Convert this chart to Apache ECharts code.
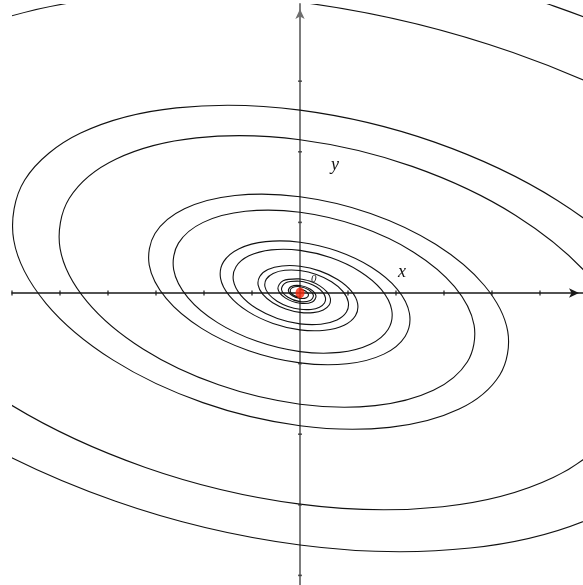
<!DOCTYPE html>
<html>
<head>
<meta charset="utf-8">
<script src="https://cdn.jsdelivr.net/npm/echarts@6/dist/echarts.min.js"></script>
<style>
  html, body { margin: 0; padding: 0; background: #fff; }
  #chart { width: 583px; height: 585px; }
</style>
</head>
<body>
<div id="chart"></div>
<script>
// two trajectories of the phase portrait, [x, y] in axis units
const spiralA = [
  [15.60, -1.96], [13.845, 0.381], [10.180, 2.487], [5.293, 4.063], [0, 4.917], [-4.886, 4.978], [-8.672, 4.299], [-10.887, 3.037],
  [-11.320, 1.423], [-10.049, -0.277], [-7.388, -1.805], [-3.842, -2.949], [0, -3.569], [3.546, -3.613], [6.295, -3.120], [7.902, -2.204],
  [8.217, -1.033], [7.293, 0.201], [5.363, 1.310], [2.788, 2.140],
  [0, 2.590], [-2.574, 2.622], [-4.569, 2.265], [-5.735, 1.600], [-5.964, 0.750], [-5.293, -0.146], [-3.892, -0.951], [-2.024, -1.553],
  [0, -1.880], [1.868, -1.903], [3.316, -1.644], [4.162, -1.161], [4.328, -0.544], [3.842, 0.106], [2.825, 0.690], [1.469, 1.127],
  [0, 1.364], [-1.356, 1.381], [-2.407, 1.193], [-3.021, 0.843], [-3.141, 0.395], [-2.788, -0.077], [-2.050, -0.501], [-1.066, -0.818],
  [0, -0.990], [0.984, -1.003], [1.747, -0.866], [2.193, -0.612], [2.280, -0.287], [2.024, 0.056], [1.488, 0.364], [0.774, 0.594],
  [0, 0.719], [-0.714, 0.728], [-1.268, 0.628], [-1.591, 0.444], [-1.655, 0.208], [-1.469, -0.040], [-1.080, -0.264], [-0.562, -0.431],
  [0, -0.522], [0.518, -0.528], [0.920, -0.456], [1.155, -0.322], [1.201, -0.151], [1.066, 0.029], [0.784, 0.191], [0.408, 0.313],
  [0, 0.379], [-0.376, 0.383], [-0.668, 0.331], [-0.838, 0.234], [-0.872, 0.110], [-0.774, -0.021], [-0.569, -0.139], [-0.296, -0.227],
  [0, -0.275], [0.273, -0.278], [0.485, -0.240], [0.608, -0.170], [0.633, -0.080], [0.562, 0.015], [0.413, 0.101], [0.215, 0.165],
  [0, 0.199], [-0.352, 0.174], [-0.459, 0.058], [-0.300, -0.073], [0, -0.145], [0.255, -0.127], [0.333, -0.042], [0.217, 0.053],
  [0, 0.105], [-0.185, 0.092], [-0.242, 0.030], [-0.158, -0.039], [0, -0.076], [0.135, -0.067], [0.176, -0.022], [0.115, 0.028], [0, 0.055]
];
const spiralB = [
  [13.07, -1.64], [11.602, 0.319], [8.531, 2.084], [4.436, 3.405], [0, 4.120], [-4.094, 4.172], [-7.267, 3.603], [-9.123, 2.545],
  [-9.486, 1.192], [-8.421, -0.232], [-6.191, -1.513], [-3.220, -2.471], [0, -2.991], [2.972, -3.028], [5.275, -2.615], [6.622, -1.847],
  [6.886, -0.866], [6.112, 0.168], [4.494, 1.098], [2.336, 1.793],
  [0, 2.170], [-2.157, 2.197], [-3.829, 1.898], [-4.806, 1.341], [-4.998, 0.629], [-4.436, -0.122], [-3.262, -0.797], [-1.696, -1.301],
  [0, -1.575], [1.565, -1.595], [2.779, -1.378], [3.488, -0.973], [3.627, -0.456], [3.220, 0.089], [2.367, 0.578], [1.231, 0.944],
  [0, 1.143], [-1.136, 1.157], [-2.017, 1.000], [-2.532, 0.706], [-2.632, 0.331], [-2.336, -0.065], [-1.718, -0.420], [-0.893, -0.685],
  [0, -0.830], [0.825, -0.841], [1.464, -0.726], [1.838, -0.513], [1.911, -0.241], [1.696, 0.047], [1.247, 0.305], [0.649, 0.498],
  [0, 0.603], [-0.598, 0.610], [-1.063, 0.526], [-1.333, 0.372], [-1.387, 0.174], [-1.231, -0.034], [-0.905, -0.221], [-0.471, -0.361],
  [0, -0.437], [0.434, -0.442], [0.771, -0.382], [0.968, -0.270], [1.006, -0.127], [0.893, 0.024], [0.657, 0.160], [0.342, 0.262],
  [0, 0.318], [-0.315, 0.321], [-0.560, 0.277], [-0.702, 0.196], [-0.731, 0.092], [-0.649, -0.018], [-0.477, -0.116], [-0.248, -0.190],
  [0, -0.230], [0.229, -0.233], [0.406, -0.201], [0.510, -0.142], [0.530, -0.067], [0.471, 0.013], [0.346, 0.085], [0.180, 0.138],
  [0, 0.167], [-0.295, 0.146], [-0.385, 0.049], [-0.251, -0.061], [0, -0.122], [0.214, -0.106], [0.279, -0.035], [0.182, 0.044],
  [0, 0.088], [-0.155, 0.077], [-0.203, 0.025], [-0.132, -0.033], [0, -0.064]
];
const xTicks = [-6, -5, -4, -3, -2, -1, 1, 2, 3, 4, 5];
const yTicks = [-4, -3, -2, -1, 1, 2, 3];
const equilibrium = [[0, 0]];

const chart = echarts.init(document.getElementById('chart'), null, { renderer: 'canvas' });

// the line series clamps its smoothing, so draw the curve as a free bezier polyline
const trajectory = (points) => ({
  type: 'custom',
  coordinateSystem: 'cartesian2d',
  data: [[0, 0]],
  clip: true,
  silent: true,
  z: 3,
  renderItem: (params, api) => ({
    type: 'polyline',
    shape: { points: points.map((p) => api.coord(p)), smooth: 0.34 },
    style: { stroke: '#111', lineWidth: 1.1, fill: 'none' },
  }),
});

const option = {
  animation: false,
  backgroundColor: '#fff',
  grid: { left: 12, right: 0, top: 4, bottom: 0 },
  xAxis: {
    type: 'value',
    min: -6,
    max: 5.896,
    axisLine: {
      onZero: true,
      symbol: ['none', 'arrow'],
      symbolSize: [7, 10],
      symbolOffset: [0, -4],
      lineStyle: { color: '#1a1a1a', width: 1.5 },
    },
    axisTick: { show: false },
    axisLabel: { show: false },
    splitLine: { show: false },
  },
  yAxis: {
    type: 'value',
    min: -4.136,
    max: 4.093,
    axisLine: {
      onZero: true,
      symbol: ['none', 'arrow'],
      symbolSize: [7, 10],
      symbolOffset: [0, -5],
      lineStyle: { color: '#6e6e6e', width: 1.8 },
    },
    axisTick: { show: false },
    axisLabel: { show: false },
    splitLine: { show: false },
  },
  series: [
    trajectory(spiralA),
    trajectory(spiralB),
    {
      type: 'scatter',
      data: xTicks.map((v) => [v, 0]),
      symbol: 'rect',
      symbolSize: [1.5, 5],
      silent: true,
      z: 4,
      itemStyle: { color: '#1a1a1a' },
    },
    {
      type: 'scatter',
      data: yTicks.map((v) => [0, v]),
      symbol: 'rect',
      symbolSize: [4, 1.6],
      silent: true,
      z: 4,
      itemStyle: { color: '#333' },
    },
    {
      type: 'scatter',
      data: equilibrium,
      symbol: 'circle',
      symbolSize: [9, 11],
      silent: true,
      z: 10,
      itemStyle: { color: '#f5260a' },
    },
  ],
  graphic: [
    { type: 'text', left: 331, top: 156, style: { text: 'y', font: 'italic 18px "Liberation Serif", serif', fill: '#111' } },
    { type: 'text', left: 398, top: 263, style: { text: 'x', font: 'italic 18px "Liberation Serif", serif', fill: '#111' } },
    { type: 'text', left: 311, top: 274, style: { text: '0', font: 'italic 11px "Liberation Serif", serif', fill: '#111' } },
  ],
};

chart.setOption(option);
</script>
</body>
</html>
